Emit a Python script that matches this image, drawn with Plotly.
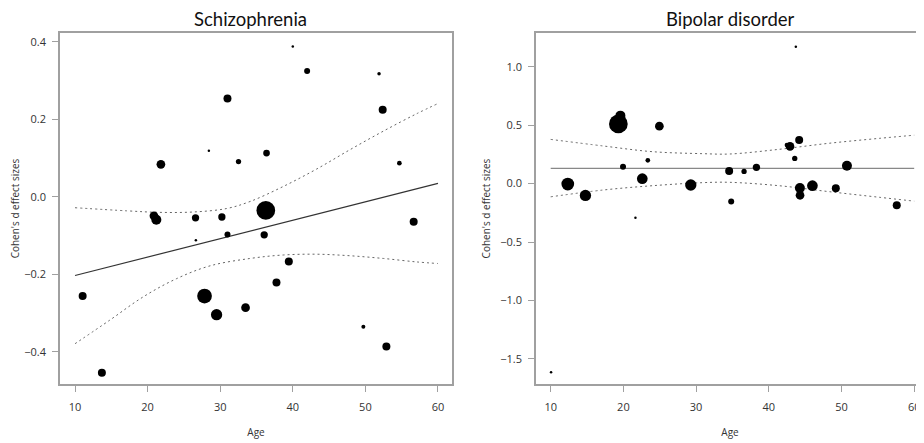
import plotly.graph_objects as go

# The page body has an 8px default margin, so the figure is laid out in
# window pixels shifted by that offset.
OFF = 8
W, H = 924 - OFF, 443 - OFF

# ---------------- Data ----------------
# Schizophrenia
scz_age = [11.05, 13.7, 20.87, 21.2, 21.83, 26.6, 26.65, 27.84, 28.44, 29.5, 30.23, 31.0, 31.0,
           32.52, 33.49, 36.06, 36.28, 36.38, 37.75, 39.45, 40.0, 41.97, 49.72, 51.88, 52.38,
           52.89, 54.68, 56.65]
scz_d = [-0.256, -0.454, -0.049, -0.059, 0.084, -0.054, -0.112, -0.256, 0.119, -0.304, -0.052,
         0.254, -0.097, 0.091, -0.286, -0.098, -0.035, 0.113, -0.221, -0.167, 0.388, 0.325,
         -0.335, 0.318, 0.225, -0.386, 0.087, -0.064]
scz_weight = [8, 8, 8.7, 10, 8.7, 7.3, 2.5, 14.7, 2.5, 11.3, 7.3, 8, 6, 5.3, 8.7, 7.3, 18.7,
              6.7, 8, 8, 2.5, 6, 4, 3.5, 8, 8, 4.7, 8]
scz_fit_age = [10, 60]
scz_fit = [-0.203, 0.035]
scz_ci_up_age = [10, 17.1, 21.7, 26.3, 30.9, 34.1, 38.7, 43.3, 47.9, 52.5, 57.1, 60]
scz_ci_up = [-0.028, -0.036, -0.040, -0.039, -0.030, -0.012, 0.027, 0.072, 0.122, 0.170, 0.215, 0.241]
scz_ci_lo_age = [10, 14.8, 19.4, 24.0, 28.6, 34.1, 38.7, 43.3, 47.9, 52.5, 57.1, 60]
scz_ci_lo = [-0.379, -0.318, -0.258, -0.211, -0.178, -0.159, -0.150, -0.148, -0.152, -0.159, -0.168, -0.172]

# Bipolar disorder
bd_age = [10.05, 12.35, 14.78, 19.31, 19.59, 19.95, 21.66, 22.6, 23.36, 24.95, 29.27, 34.55,
          34.83, 36.6, 38.3, 42.5, 42.92, 43.57, 43.72, 44.18, 44.28, 44.3, 46.0, 49.22, 50.75, 57.6]
bd_d = [-1.614, -0.004, -0.101, 0.510, 0.581, 0.145, -0.292, 0.042, 0.199, 0.491, -0.012, 0.108,
        -0.153, 0.104, 0.139, 0.33, 0.318, 0.215, 1.171, 0.373, -0.038, -0.100, -0.018, -0.040,
        0.153, -0.186]
bd_weight = [2.5, 12.7, 11.3, 18.7, 10, 6, 2.5, 10.7, 4.7, 8.7, 11.3, 8, 6, 5.3, 7.3, 4.7, 8.7,
             5.3, 2.5, 8, 10, 8.7, 10.7, 8, 10, 8]
bd_fit_age = [10, 60]
bd_fit = [0.130, 0.130]
bd_ci_age = [10, 17.2, 24.0, 30.9, 34.6, 41.4, 48.3, 55.2, 60]
bd_ci_up = [0.378, 0.322, 0.273, 0.256, 0.253, 0.293, 0.345, 0.387, 0.414]
bd_ci_lo = [-0.113, -0.055, -0.018, 0.008, 0.011, -0.018, -0.069, -0.117, -0.150]

x_ticks = [10, 20, 30, 40, 50, 60]
scz_y_ticks = [-0.4, -0.2, 0.0, 0.2, 0.4]
bd_y_ticks = [-1.5, -1.0, -0.5, 0.0, 0.5, 1.0]

titles = ["Schizophrenia", "Bipolar disorder"]

# ---------------- Figure ----------------
fig = go.Figure()

FONT = "Open Sans"
DOT = "2px,3px"

def add_panel(xa, ya, age, d, w, fit_age, fit, fit_color, up_age, up, lo_age, lo):
    fig.add_trace(go.Scatter(x=up_age, y=up, mode="lines", xaxis=xa, yaxis=ya,
                             line=dict(color="#666", width=1, dash=DOT, shape="spline"),
                             showlegend=False, hoverinfo="skip"))
    fig.add_trace(go.Scatter(x=lo_age, y=lo, mode="lines", xaxis=xa, yaxis=ya,
                             line=dict(color="#666", width=1, dash=DOT, shape="spline"),
                             showlegend=False, hoverinfo="skip"))
    fig.add_trace(go.Scatter(x=fit_age, y=fit, mode="lines", xaxis=xa, yaxis=ya,
                             line=dict(color=fit_color, width=1.2),
                             showlegend=False, hoverinfo="skip"))
    fig.add_trace(go.Scatter(x=age, y=d, mode="markers", xaxis=xa, yaxis=ya,
                             marker=dict(color="black", size=w, sizemode="diameter",
                                         opacity=1, line=dict(width=0)),
                             opacity=1, showlegend=False))

add_panel("x", "y", scz_age, scz_d, scz_weight, scz_fit_age, scz_fit, "#333",
          scz_ci_up_age, scz_ci_up, scz_ci_lo_age, scz_ci_lo)
add_panel("x2", "y2", bd_age, bd_d, bd_weight, bd_fit_age, bd_fit, "#888",
          bd_ci_age, bd_ci_up, bd_ci_age, bd_ci_lo)

axis_common = dict(showgrid=False, zeroline=False, showline=True, linecolor="#a0a0a0",
                   linewidth=1.5, ticks="outside", ticklen=6, tickcolor="#a0a0a0",
                   tickwidth=1, tickfont=dict(family=FONT, size=11, color="#333"),
                   automargin=False, ticklabeloverflow="allow")

def px_x(p):
    return (p - OFF) / W

def px_y(p):
    return 1 - (p - OFF) / H

ytitle = dict(text="Cohen's d effect sizes", font=dict(size=10, color="#333"), standoff=8)
xtitle = dict(text="Age", font=dict(size=10, color="#333"), standoff=16)

fig.update_layout(
    width=W, height=H,
    margin=dict(l=0, r=0, t=0, b=0, pad=0),
    paper_bgcolor="white", plot_bgcolor="white",
    font=dict(family=FONT, color="#333"),
    xaxis=dict(domain=[px_x(60), px_x(452)], range=[7.93, 61.93], tickvals=x_ticks,
               mirror=True, anchor="y", title=xtitle, ticklabelstandoff=6, **axis_common),
    yaxis=dict(domain=[px_y(384), px_y(33)], range=[-0.483, 0.423], tickvals=scz_y_ticks,
               tickformat=".1f", mirror=True, anchor="x", title=ytitle,
               ticklabelstandoff=4, **axis_common),
    xaxis2=dict(domain=[px_x(536), 1.0], range=[7.98, 61.35], tickvals=x_ticks,
                mirror=True, anchor="y2", title=xtitle, ticklabelstandoff=6, **axis_common),
    yaxis2=dict(domain=[px_y(384), px_y(33)], range=[-1.714, 1.288], tickvals=bd_y_ticks,
                tickformat=".1f", mirror=False, anchor="x2", title=ytitle,
                ticklabelstandoff=4, **axis_common),
)

for t, cx in zip(titles, [250, 730]):
    fig.add_annotation(text=t, x=px_x(cx), y=px_y(19.5), xref="paper", yref="paper",
                       xanchor="center", yanchor="middle", showarrow=False, borderpad=0,
                       font=dict(family="Lato", size=18.5, color="#111"))

fig.write_html("out.html")
